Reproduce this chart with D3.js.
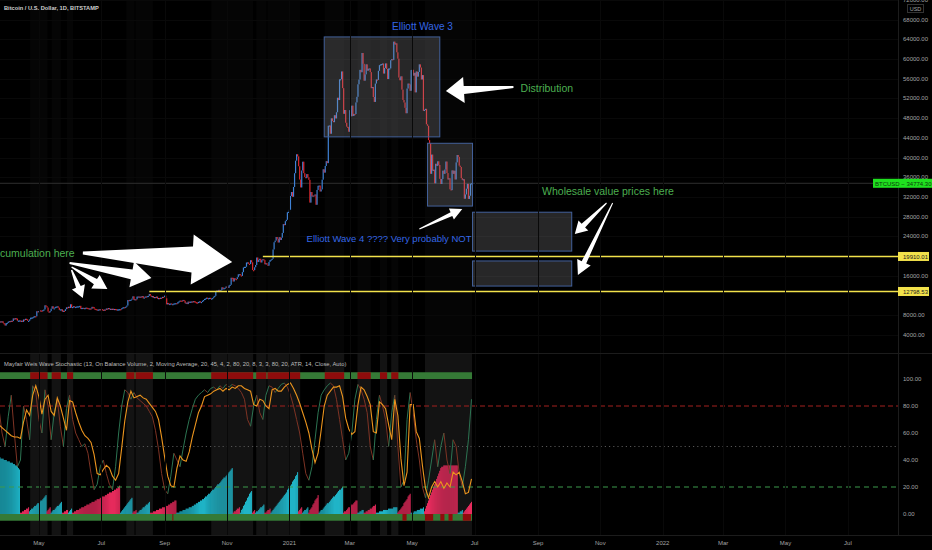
<!DOCTYPE html>
<html><head><meta charset="utf-8">
<script src="https://cdn.jsdelivr.net/npm/d3@7"></script>
<style>body{margin:0;background:#000}svg{display:block}</style>
</head><body>
<svg id="c" width="932" height="550"></svg>
<script>
// ---- data -------------------------------------------------------------
const FIRST_SESSION = "2020-03-23";   // first daily bar in the series

// daily closes, BTCUSD (Bitstamp), one per session starting at FIRST_SESSION
const closes = [
  6460,6740,6690,6750,6380,6250,5880,6400,6420,                                   // 2020 Mar
  6640,6800,6740,6860,6780,7330,7200,7370,7300,6860,6890,6920,6860,6870,6630,7110,
  7040,7260,7130,6850,6850,7130,7480,7500,7540,7700,7790,7760,8780,8620,           // Apr
  8830,8970,8900,8890,9030,9150,9990,9810,9540,8720,8560,8810,9310,9790,9310,9380,
  9670,9730,9780,9510,9060,9170,9180,8720,8900,8840,9200,9570,9430,9700,9450,      // May
  10200,9520,9660,9800,9620,9670,9750,9780,9780,9880,9280,9460,9480,9390,9430,9520,
  9460,9390,9300,9360,9290,9680,9630,9300,9250,9160,9010,9120,9190,9140,           // Jun
  9230,9090,9060,9130,9080,9340,9250,9430,9240,9290,9240,9300,9240,9250,9200,9130,
  9160,9170,9210,9160,9390,9540,9610,9550,9710,9940,11050,10930,11100,11110,11350, // Jul
  11810,11070,11230,11190,11750,11780,11600,11760,11680,11880,11410,11580,11780,11770,11870,11910,
  12290,11960,11760,11870,11530,11680,11650,11760,11340,11470,11320,11540,11480,11710,11680, // Aug
  11970,11420,10180,10470,10170,10280,10370,10130,10240,10360,10400,10440,10330,10680,10790,
  10950,10940,10930,11080,10920,10420,10540,10240,10740,10690,10730,10770,10700,10840,10780, // Sep
  10620,10570,10550,10670,10790,10600,10670,10920,11060,11300,11380,11540,11430,11430,11510,11330,
  11370,11500,11750,11920,12820,12990,12940,13130,13030,13070,13650,13280,13460,13560,13800, // Oct
  13760,13560,14030,14160,15590,15580,14830,15480,15330,15310,15700,16280,16320,16070,15960,
  16730,17660,17800,17820,18680,18710,18420,18370,19150,18730,17150,17140,17720,18180,19700, // Nov
  18790,19220,19440,18690,19160,19360,19170,18320,18550,18250,18040,18810,19170,19270,19440,21340,
  22800,23130,23860,23480,22750,23830,23250,23720,24690,26490,26280,27080,27360,28880,28990, // Dec
  29400,32200,33000,32030,34030,36820,39370,40670,40240,38240,35540,33930,37370,39160,36830,36040,
  35820,36640,36000,35470,30850,33000,32100,32290,32260,32500,30410,33420,34260,34320,33110, // 2021 Jan
  33530,35510,37620,36940,38290,39270,38870,46450,46520,44840,47970,47430,47180,48600,
  47940,49200,52150,51680,55900,55920,57490,54100,48890,49660,47070,46280,46180,45240,       // Feb
  49630,48380,50540,48440,48870,48840,51200,52340,54880,55850,57810,57330,61240,59040,55610,56900,
  58930,57640,58030,58100,57350,54090,54340,52300,51300,55030,55860,55780,57620,58770,58920, // Mar
  58980,59100,57060,58200,59120,57990,55950,58090,58100,59770,59990,59840,63540,62970,63200,
  61380,60090,56250,55700,56500,53800,51700,51190,50100,49000,54020,55030,54860,53560,57750, // Apr
  57830,56630,57210,53240,57480,56430,57380,58930,58280,55860,56750,49500,49690,49900,46760,46450,
  43540,42900,36700,40600,37300,37540,34770,38740,38300,39240,38500,35680,34630,35650,37340, // May
  36690,37570,39190,36850,35540,35800,33560,33380,37390,36690,37330,35550,39020,40520,
  40140,38350,38090,35820,35480,35600,31640,32510,33680,34660,31600,32240,34680,34774.30     // Jun
];
const lastPrice = 34774.30;

// Weis wave volume per session: sign gives the wave direction (+ up, - down)
const weisWave = [
  42,42,41,41,41,40,40,40,39,39,39,38,38,38,37,37,36,36,35,34,33,
  -1,-1,-2,-2,-3,-3,-4,-4,-5,
  2,3,4,4,5,6,6,7,8,8,9,10,10,11,12,13,14,
  -2,-3,-4,-5,
  1,2,3,3,4,5,6,6,7,8,9,
  -1,-1,-2,-2,-3,-3,
  1,2,3,4,
  -1,-1,-2,-2,-3,-3,-3,-4,-4,-5,-5,-5,-6,-6,-7,-7,-7,-8,-8,-9,-9,-9,-10,-10,-11,-11,-11,-12,-12,-13,
  -13,-13,-14,-14,-15,-15,-16,-16,-16,-17,-17,-18,-18,-19,-19,-20,-21,
  1,2,3,4,5,6,7,8,9,10,11,12,
  -1,-2,-2,-3,
  1,1,2,3,3,4,5,5,6,7,7,8,9,
  -1,-1,-1,-2,-2,-2,-3,-3,-3,-4,-4,-4,-5,-5,-5,-6,-6,-6,-7,-7,-8,-8,-9,-9,-10,-10,
  1,1,1,2,2,2,3,3,3,4,4,4,5,5,5,6,6,7,7,8,8,9,9,10,10,11,11,12,13,13,
  14,15,15,16,17,18,18,19,20,21,22,22,23,24,25,26,27,27,28,29,30,31,32,33,34,
  -1,-2,-2,-3,-4,-4,-5,
  1,3,4,6,7,9,10,12,13,15,16,17,
  -1,-2,-3,
  1,2,2,3,4,5,5,6,7,
  -1,-1,-2,-3,-3,-4,
  1,2,3,4,5,6,7,8,9,10,11,12,13,14,15,16,18,19,20,21,22,24,25,26,28,29,31,
  -2,-3,-4,-5,
  1,2,3,3,4,5,
  -1,-3,-4,-5,-7,-8,-10,-11,-12,-14,
  1,2,3,3,4,5,6,7,8,8,9,10,11,12,13,13,14,15,16,17,18,18,19,20,
  -1,-2,-2,-3,-4,-5,-5,-6,-7,-7,-8,-9,-10,-10,
  1,1,2,2,3,3,
  -1,-1,-2,-2,-3,-3,-4,-4,-5,-6,-6,-7,
  1,1,1,2,2,2,2,3,3,3,3,3,4,4,4,4,4,5,5,5,5,
  -1,-2,-3,-4,-5,-6,-8,-9,-10,-11,-13,-14,-15,
  1,1,1,2,2,2,3,3,3,4,4,4,5,
  -2,-4,-6,-8,-10,-12,-14,-16,-18,-20,-22,-24,-26,-28,-30,-32,-34,-35,-35,-36,
  -36,-36,-36,-36,-36,-36,-36,-36,-36,-36,-36,-36,-36,
  1,1,2,2,3,
  -1,-2,-3,-4,-5,-6,-7,-8,-9
];

// stochastic lines, one value every STOCH_STEP sessions
const STOCH_STEP = 3;
const stochK = [
  66,64,62,60,58,57,57,56,68,77, 73,88,95,87,74,85,88,76,73,86,
  80,71,62,84,83,75,68,62,58,56, 53,44,30,29,33,36,34,28,25,30,
  49,69,83,91,86,87,88,86,85,82, 79,76,70,57,42,28,21,20,34,43,
  40,39,46,57,66,75,80,87,88,89, 91,92,93,91,93,92,94,93,95,95,
  93,92,91,81,80,85,84,80,78,92, 93,91,91,94,96,97,93,88,82,75,
  68,60,48,38,45,62,80,88,91,94, 94,95,87,71,63,59,61,81,94,92,
  87,81,61,60,83,81,78,66,55,85, 73,41,21,31,81,81,61,56,36,19,
  12,20,24,20,24,19,23,20,31,29, 31,24,15,16,26
];
const stochD = [
  78,60,50,72,88,60,35,40,80,70, 55,95,90,70,60,92,80,55,75,85,
  65,50,78,88,70,60,55,50,52,45, 30,18,22,35,40,30,22,18,35,60,
  80,92,90,85,90,86,84,82,80,76, 72,62,48,30,18,15,28,45,40,35,
  48,60,70,78,85,88,90,92,90,93, 94,92,95,93,96,94,96,95,93,90,
  85,70,65,80,88,75,70,88,95,94, 90,93,96,97,94,88,80,70,60,45,
  30,25,35,55,75,88,92,95,97,95, 85,70,55,40,45,60,85,96,92,85,
  75,50,40,70,88,80,70,50,75,88, 50,20,25,70,90,75,55,40,20,12,
  25,40,55,35,50,60,40,30,55,50, 30,20,35,55,85
];

// state bands of the oscillator (inclusive session dates)
const upperBandRed = [
  ["2020-04-23","2020-05-09"],["2020-05-14","2020-05-22"],["2020-05-29","2020-06-03"],
  ["2020-07-26","2020-08-02"],["2020-08-04","2020-08-20"],["2020-10-17","2020-11-26"],
  ["2020-11-30","2020-12-09"],["2020-12-11","2021-01-11"],["2021-02-05","2021-02-23"],
  ["2021-03-09","2021-03-21"],["2021-03-31","2021-04-06"],["2021-04-11","2021-04-17"]
];
const lowerBandRed = [
  ["2020-09-09","2020-09-09"],["2021-04-22","2021-04-25"],["2021-05-14","2021-05-21"],
  ["2021-05-29","2021-06-01"],["2021-06-06","2021-06-09"],["2021-06-20","2021-06-27"]
];
const highlightRanges = upperBandRed.concat([["2021-05-14","2021-06-28"]]);

// axis ticks (20000 and 12000 sit under the level tags and are left out)
const priceTicks = [4000,8000,16000,24000,28000,32000,36000,40000,44000,48000,
                    52000,56000,60000,64000,68000,72000];
const oscTicks = [0,20,40,60,80,100];
const timeTicks = [
  ["2020-05-01","May"],["2020-07-01","Jul"],["2020-09-01","Sep"],["2020-11-01","Nov"],
  ["2021-01-01","2021"],["2021-03-01","Mar"],["2021-05-01","May"],["2021-07-01","Jul"],
  ["2021-09-01","Sep"],["2021-11-01","Nov"],["2022-01-01","2022"],["2022-03-01","Mar"],
  ["2022-05-01","May"],["2022-07-01","Jul"]
];

// drawings on the price pane
const levels = [
  {from:"2020-12-06", price:19910.01},
  {from:"2020-08-17", price:12798.53}
];
const boxes = [
  {from:"2021-02-04", to:"2021-05-28", hi:64500, lo:44200},
  {from:"2021-05-16", to:"2021-06-29", hi:42900, lo:30150},
  {from:"2021-06-29", to:"2021-10-04", hi:28900, lo:21000},
  {from:"2021-06-29", to:"2021-10-04", hi:19000, lo:13900}
];
const notes = [
  {text:"Elliott Wave 3", date:"2021-05-11", price:66700, anchor:"middle", color:"#3567e6", size:10},
  {text:"Distribution", date:"2021-08-15", price:54100, anchor:"start", color:"#4caf50", size:10.5},
  {text:"Wholesale value prices here", date:"2021-09-05", price:33200, anchor:"start", color:"#4caf50", size:10.5},
  {text:"Elliott Wave 4 ???? Very probably NOT", date:"2021-06-28", price:23660, anchor:"end", color:"#3567e6", size:9.5},
  {text:"Accumulation here", date:"2020-06-05", price:20600, anchor:"end", color:"#4caf50", size:10.5}
];
const arrows = [
  {tail:["2021-08-08",54330], tip:["2021-06-03",53500], head:18, headW:26, shaft:8, tailW:2},
  {tail:["2021-05-08",25490], tip:["2021-06-19",29550], head:12, headW:12, shaft:4, tailW:1},
  {tail:["2021-11-07",30770], tip:["2021-10-07",24470], head:12, headW:14, shaft:5, tailW:1},
  {tail:["2021-11-13",30770], tip:["2021-10-10",16150], head:14, headW:15, shaft:5, tailW:1},
  {tail:["2020-06-13",20615], tip:["2020-11-06",18790], head:40, headW:50, shaft:26, tailW:3},
  {tail:["2020-05-31",18580], tip:["2020-08-19",15540], head:20, headW:26, shaft:10, tailW:2},
  {tail:["2020-06-02",17770], tip:["2020-07-07",13300], head:14, headW:16, shaft:6, tailW:1.5},
  {tail:["2020-06-02",17160], tip:["2020-06-13",11480], head:12, headW:14, shaft:5, tailW:1.5}
];

// ---- layout & scales ---------------------------------------------------
const W = 932, H = 550, PLOT_R = 898, MAIN_B = 353, OSC_B = 535;
const FONT = "'Liberation Sans', Arial, sans-serif";
const parse = d3.utcParse("%Y-%m-%d");
const first = parse(FIRST_SESSION);
const dayAt = i => d3.utcDay.offset(first, i);

const x = d3.scaleUtc().domain([parse("2020-03-24"), parse("2022-08-19")]).range([0, PLOT_R]);
const yP = d3.scaleLinear().domain([0, 72000]).range([354.5, 0]);
const yO = d3.scaleLinear().domain([0, 100]).range([514, 379]);

const svg = d3.select("#c").style("font-family", FONT);
svg.append("rect").attr("width", W).attr("height", H).attr("fill", "#000");

const defs = svg.append("defs");
defs.append("clipPath").attr("id", "clipMain").append("rect")
  .attr("x", 0).attr("y", 0).attr("width", PLOT_R).attr("height", MAIN_B);
defs.append("clipPath").attr("id", "clipOsc").append("rect")
  .attr("x", 0).attr("y", MAIN_B).attr("width", PLOT_R).attr("height", OSC_B - MAIN_B);

const spanX = r => [x(parse(r[0])) - 0.5, x(d3.utcDay.offset(parse(r[1]), 1)) - 0.5];

// ---- background highlights --------------------------------------------
const gMain = svg.append("g").attr("clip-path", "url(#clipMain)");
const gOsc = svg.append("g").attr("clip-path", "url(#clipOsc)");

highlightRanges.forEach(r => {
  const [a, b] = spanX(r);
  gMain.append("rect").attr("x", a).attr("y", 0).attr("width", b - a).attr("height", MAIN_B)
    .attr("fill", "#fff").attr("opacity", 0.018);
  gOsc.append("rect").attr("x", a).attr("y", MAIN_B).attr("width", b - a).attr("height", OSC_B - MAIN_B)
    .attr("fill", "#fff").attr("opacity", 0.075);
});

// grid
timeTicks.forEach(t => {
  const xx = Math.round(x(parse(t[0]))) + 0.5;
  svg.append("line").attr("x1", xx).attr("x2", xx).attr("y1", 0).attr("y2", OSC_B)
    .attr("stroke", "#090909");
});
priceTicks.forEach(p => {
  const yy = Math.round(yP(p)) + 0.5;
  gMain.append("line").attr("x1", 0).attr("x2", PLOT_R).attr("y1", yy).attr("y2", yy)
    .attr("stroke", "#090909");
});

// ---- price pane ---------------------------------------------------------
// last price line
gMain.append("line").attr("x1", 0).attr("x2", PLOT_R)
  .attr("y1", yP(lastPrice)).attr("y2", yP(lastPrice)).attr("stroke", "#2e2e2e");

// candles (open = previous close)
gMain.append("g").selectAll("rect").data(closes.slice(1)).join("rect")
  .attr("x", (c, k) => x(dayAt(k + 1)) - 0.6)
  .attr("width", 1.2)
  .attr("y", (c, k) => yP(Math.max(c, closes[k])))
  .attr("height", (c, k) => Math.max(1.2, Math.abs(yP(c) - yP(closes[k]))))
  .attr("fill", (c, k) => c >= closes[k] ? "#3f82d6" : "#e0282f");

// horizontal levels
levels.forEach(l => {
  gMain.append("line").attr("x1", x(parse(l.from))).attr("x2", PLOT_R)
    .attr("y1", yP(l.price)).attr("y2", yP(l.price))
    .attr("stroke", "#f2e24b").attr("stroke-width", 1.4);
});

// rectangles
boxes.forEach(b => {
  const x0 = x(parse(b.from)), x1 = x(parse(b.to));
  gMain.append("rect").attr("x", x0).attr("y", yP(b.hi))
    .attr("width", x1 - x0).attr("height", yP(b.lo) - yP(b.hi))
    .attr("fill", "rgb(150,150,155)").attr("fill-opacity", 0.26)
    .attr("stroke", "#43619b").attr("stroke-width", 1);
});

// arrows
function arrowPath(p0, p1, a) {
  const dx = p1[0] - p0[0], dy = p1[1] - p0[1], L = Math.hypot(dx, dy);
  const ux = dx / L, uy = dy / L, nx = -uy, ny = ux;
  const bx = p1[0] - ux * a.head, by = p1[1] - uy * a.head;
  const pts = [
    [p0[0] + nx * a.tailW / 2, p0[1] + ny * a.tailW / 2],
    [bx + nx * a.shaft / 2, by + ny * a.shaft / 2],
    [bx + nx * a.headW / 2, by + ny * a.headW / 2],
    [p1[0], p1[1]],
    [bx - nx * a.headW / 2, by - ny * a.headW / 2],
    [bx - nx * a.shaft / 2, by - ny * a.shaft / 2],
    [p0[0] - nx * a.tailW / 2, p0[1] - ny * a.tailW / 2]
  ];
  return "M" + pts.map(p => p[0].toFixed(1) + "," + p[1].toFixed(1)).join("L") + "Z";
}
arrows.forEach(a => {
  const p0 = [x(parse(a.tail[0])), yP(a.tail[1])];
  const p1 = [x(parse(a.tip[0])), yP(a.tip[1])];
  svg.append("path").attr("d", arrowPath(p0, p1, a)).attr("fill", "#fff");
});

// text notes
notes.forEach(n => {
  svg.append("text").attr("x", x(parse(n.date))).attr("y", yP(n.price))
    .attr("dominant-baseline", "central").attr("text-anchor", n.anchor)
    .attr("font-size", n.size).attr("fill", n.color).text(n.text);
});

// ---- oscillator pane ----------------------------------------------------
// Weis wave histogram
gOsc.append("g").selectAll("rect").data(weisWave).join("rect")
  .attr("x", (v, i) => x(dayAt(i)) - 0.45)
  .attr("width", 0.9)
  .attr("y", v => yO(Math.abs(v)))
  .attr("height", v => yO(0) - yO(Math.abs(v)))
  .attr("fill", v => v >= 0 ? "#22c7dc" : "#ff2f66");

// level lines
[[80, "#a3201f", "5,3"], [50, "#555", "1.2,3"], [20, "#3c9a4c", "5,4"]].forEach(l => {
  gOsc.append("line").attr("x1", 0).attr("x2", PLOT_R).attr("y1", yO(l[0])).attr("y2", yO(l[0]))
    .attr("stroke", l[1]).attr("stroke-dasharray", l[2]);
});

// state bands
const lastX = x(dayAt(closes.length)) - 0.5;
[[100, 105, upperBandRed], [-5, 0, lowerBandRed]].forEach(([lo, hi, reds]) => {
  gOsc.append("rect").attr("x", 0).attr("y", yO(hi)).attr("width", lastX)
    .attr("height", yO(lo) - yO(hi)).attr("fill", "#357a36");
  reds.forEach(r => {
    const [a, b] = spanX(r);
    gOsc.append("rect").attr("x", a).attr("y", yO(hi)).attr("width", b - a)
      .attr("height", yO(lo) - yO(hi)).attr("fill", "#8e0c0c");
  });
});

// stochastic lines
const stochPts = arr => arr.map((v, k) => [x(dayAt(k * STOCH_STEP)), yO(v)]);
const dPts = stochPts(stochD);
for (let k = 1; k < dPts.length; k++) {
  gOsc.append("line").attr("x1", dPts[k - 1][0]).attr("y1", dPts[k - 1][1])
    .attr("x2", dPts[k][0]).attr("y2", dPts[k][1])
    .attr("stroke", stochD[k] >= stochD[k - 1] ? "#2c7452" : "#7e3324").attr("stroke-width", 1);
}
gOsc.append("path").attr("d", d3.line()(stochPts(stochK)))
  .attr("fill", "none").attr("stroke", "#ec951e").attr("stroke-width", 1.1);

// ---- frame, axes, labels ------------------------------------------------
svg.append("line").attr("x1", 0).attr("x2", W).attr("y1", MAIN_B + 0.5).attr("y2", MAIN_B + 0.5).attr("stroke", "#1c1c1c");
svg.append("line").attr("x1", 0).attr("x2", W).attr("y1", OSC_B + 0.5).attr("y2", OSC_B + 0.5).attr("stroke", "#1c1c1c");
svg.append("line").attr("x1", PLOT_R + 0.5).attr("x2", PLOT_R + 0.5).attr("y1", 0).attr("y2", OSC_B).attr("stroke", "#1c1c1c");

const axisTxt = "#a4a4a4";
priceTicks.forEach(p => {
  svg.append("text").attr("x", 903).attr("y", yP(p)).attr("dominant-baseline", "central")
    .attr("font-size", 6).attr("fill", axisTxt).text(d3.format(".2f")(p));
});
oscTicks.forEach(v => {
  svg.append("text").attr("x", 903).attr("y", yO(v)).attr("dominant-baseline", "central")
    .attr("font-size", 6).attr("fill", axisTxt).text(d3.format(".2f")(v));
});
timeTicks.forEach(t => {
  svg.append("text").attr("x", x(parse(t[0]))).attr("y", 543).attr("dominant-baseline", "central")
    .attr("text-anchor", "middle").attr("font-size", 6).attr("fill", axisTxt).text(t[1]);
});

// currency box
svg.append("rect").attr("x", 907.5).attr("y", 4.5).attr("width", 16).attr("height", 8)
  .attr("fill", "#000").attr("stroke", "#333");
svg.append("text").attr("x", 915.5).attr("y", 8.7).attr("text-anchor", "middle")
  .attr("dominant-baseline", "central").attr("font-size", 5.5).attr("fill", axisTxt).text("USD");

// price tags
levels.forEach(l => {
  const yy = yP(l.price);
  svg.append("rect").attr("x", 898).attr("y", yy - 4.5).attr("width", 31).attr("height", 9).attr("fill", "#f2e24b");
  svg.append("text").attr("x", 903).attr("y", yy + 0.3).attr("dominant-baseline", "central")
    .attr("font-size", 6).attr("fill", "#222").text(d3.format(".2f")(l.price));
});
{
  const yy = yP(lastPrice);
  svg.append("rect").attr("x", 873).attr("y", yy - 4.5).attr("width", 59).attr("height", 9).attr("fill", "#1fe01f");
  svg.append("text").attr("x", 875).attr("y", yy + 0.3).attr("dominant-baseline", "central")
    .attr("font-size", 6).attr("fill", "#0d3a0d").text("BTCUSD \u2212 " + d3.format(".2f")(lastPrice));
}

// legends
svg.append("text").attr("x", 4).attr("y", 8).attr("dominant-baseline", "central")
  .attr("font-size", 5.7).attr("font-weight", "bold").attr("fill", "#cfcfcf")
  .text("Bitcoin / U.S. Dollar, 1D, BITSTAMP");
svg.append("text").attr("x", 4).attr("y", 364).attr("dominant-baseline", "central")
  .attr("font-size", 5.8).attr("fill", "#bdbdbd")
  .text("Mayfair Weis Wave Stochastic (13, On Balance Volume, 2, Moving Average, 20, 45, 4, 2, 80, 20, 8, 3, 3, 80, 20, ATR, 14, Close, Auto)");
</script>
</body></html>
